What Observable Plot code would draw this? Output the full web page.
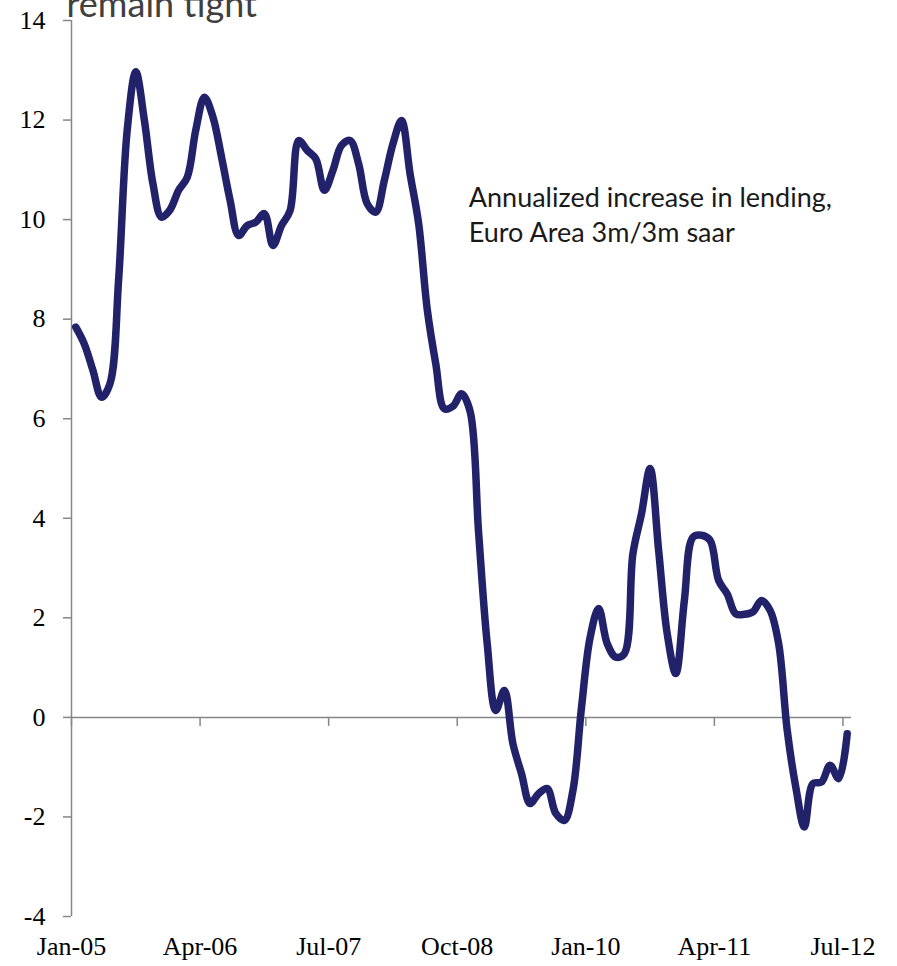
<!DOCTYPE html>
<html>
<head>
<meta charset="utf-8">
<script src="https://cdn.jsdelivr.net/npm/d3@7"></script>
<script src="https://cdn.jsdelivr.net/npm/@observablehq/plot@0.6"></script>
<style>
  html, body { margin: 0; padding: 0; background: #ffffff; overflow: hidden; }
</style>
</head>
<body>
<div id="chart"></div>
<script>
// ---- data ----
const titleText = "remain tight";
const noteLines = ["Annualized increase in lending,", "Euro Area 3m/3m saar"];
const startYear = 2005; // first month: Jan-05
// monthly values, Jan-05 ... Jul-12
const values = [
  7.84, 7.5, 6.97, 6.43, 6.71, 8.8, 11.8, 12.97, 12.0, 10.72,
  10.05, 10.2, 10.59, 10.85, 11.8, 12.46, 12.06, 11.26, 10.39, 9.68,
  9.88, 9.95, 10.12, 9.48, 9.88, 10.18, 11.59, 11.39, 11.22, 10.59,
  10.99, 11.49, 11.59, 11.12, 10.32, 10.15, 10.79, 11.52, 11.99, 10.92,
  9.92, 8.2, 7.1, 6.2, 6.25, 6.5, 6.15, 3.7, 1.48, 0.14,
  0.54, -0.53, -1.13, -1.73, -1.53, -1.43, -1.93, -2.07, -1.47, 0.2,
  1.6, 2.19, 1.48, 1.21, 1.28, 3.29, 4.09, 5.0, 3.35, 1.68,
  0.88, 2.35, 3.62, 3.66, 3.56, 2.75, 2.48, 2.08, 2.07, 2.12,
  2.35, 2.15, 1.48, -0.26, -1.4, -2.2, -1.33, -1.3, -0.96, -1.23,
  -0.33
];
const xTickMonths = [0, 15, 30, 45, 60, 75, 90];
const xTickLabels = ["Jan-05", "Apr-06", "Jul-07", "Oct-08", "Jan-10", "Apr-11", "Jul-12"];
const yTicks = [-4, -2, 0, 2, 4, 6, 8, 10, 12, 14];

// table for the line: each month sits in the middle of its slot
const data = values.map((v, i) => ({month: i + 0.5, value: v}));

const axisGray = "#868686";
const lineColor = "#22226a";
const serif = "'Liberation Serif', 'DejaVu Serif', serif";
const sans = "Lato, 'Open Sans', sans-serif";

const chart = Plot.plot({
  width: 897,
  height: 966,
  marginLeft: 71,
  marginRight: 46,
  marginTop: 20,
  marginBottom: 50,
  x: {domain: [0, values.length]},
  y: {domain: [-4, 14]},
  style: {fontFamily: serif, fontSize: "26px", color: "#000", background: "#fff", overflow: "visible"},
  marks: [
    // y axis line
    Plot.ruleX([0], {stroke: axisGray, strokeWidth: 1.5}),
    // y ticks (marks only)
    Plot.axisY({ticks: yTicks, tickSize: 8, text: null, stroke: axisGray, strokeWidth: 1.5, label: null}),
    // y tick labels
    Plot.axisY({ticks: yTicks, tickSize: 0, tickPadding: 26, fill: "#000", tickFormat: d => String(d), label: null}),
    // x axis line at zero
    Plot.ruleY([0], {stroke: axisGray, strokeWidth: 1.5}),
    // x tick marks hanging below the zero line
    Plot.ruleX(xTickMonths, {x: d => d, y1: 0, y2: 0, insetBottom: -9, stroke: axisGray, strokeWidth: 1.5}),
    // x tick labels at the bottom
    Plot.axisX({ticks: xTickMonths, tickSize: 0, tickPadding: 20, fill: "#000",
      tickFormat: d => xTickLabels[xTickMonths.indexOf(d)], label: null}),
    // the series
    Plot.line(data, {x: "month", y: "value", stroke: lineColor, strokeWidth: 7.5,
      curve: "catmull-rom", strokeLinecap: "round", strokeLinejoin: "round"}),
    // annotation
    Plot.text([noteLines.join("\n")], {x: 46.35, y: 10.75, text: d => d, textAnchor: "start", lineAnchor: "top",
      lineHeight: 1.3, fontFamily: sans, fontSize: 27, fill: "#1a1a1a"}),
    // (cut-off) title
    Plot.text([titleText], {frameAnchor: "top-left", text: d => d, dx: -5, dy: -4, textAnchor: "start",
      lineAnchor: "bottom", fontFamily: sans, fontSize: 36, fill: "#404040"})
  ]
});
document.getElementById("chart").appendChild(chart);
</script>
</body>
</html>
